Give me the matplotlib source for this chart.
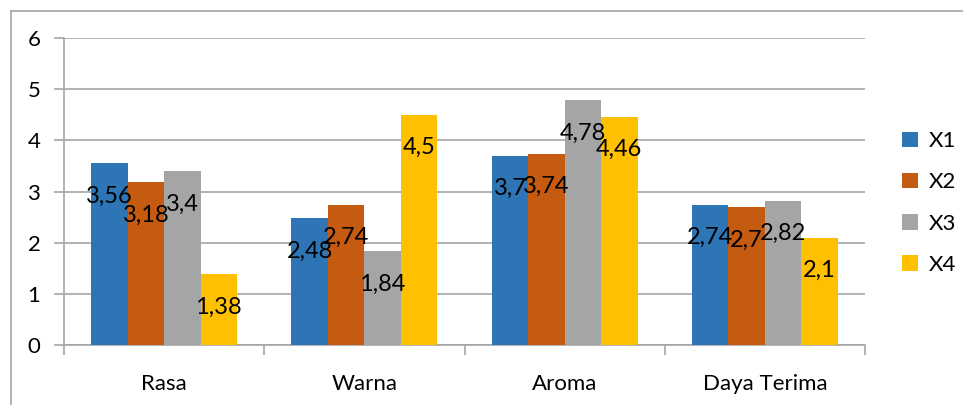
import matplotlib
matplotlib.use("Agg")
import matplotlib.pyplot as plt
import numpy as np
from matplotlib.lines import Line2D
from matplotlib.patches import Patch

categories = ["Rasa", "Warna", "Aroma", "Daya Terima"]
series_names = ["X1", "X2", "X3", "X4"]
x1 = [3.56, 2.48, 3.7, 2.74]
x2 = [3.18, 2.74, 3.74, 2.7]
x3 = [3.4, 1.84, 4.78, 2.82]
x4 = [1.38, 4.5, 4.46, 2.1]
label_x1 = ["3,56", "2,48", "3,7", "2,74"]
label_x2 = ["3,18", "2,74", "3,74", "2,7"]
label_x3 = ["3,4", "1,84", "4,78", "2,82"]
label_x4 = ["1,38", "4,5", "4,46", "2,1"]
yticks = [0, 1, 2, 3, 4, 5, 6]

colors = ["#2E75B6", "#C55A11", "#A5A5A5", "#FFC000"]
series = [x1, x2, x3, x4]
labels = [label_x1, label_x2, label_x3, label_x4]

plt.rcParams['font.family'] = ['Lato', 'DejaVu Sans']

fig = plt.figure(figsize=(9.63, 4.05), dpi=100)
ax = fig.add_axes([64/963, 1-345/405, (865-64)/963, (345-38)/405])

n = len(categories)
xs = np.arange(n)
bw = 0.182
for i, (vals, col, labs) in enumerate(zip(series, colors, labels)):
    pos = xs + (i - 1.5) * bw
    ax.bar(pos, vals, width=bw, color=col, zorder=3, linewidth=0)
    for p, v, t in zip(pos, vals, labs):
        ax.annotate(t, (p, v), xytext=(0, -33), textcoords='offset pixels',
                    ha='center', va='center', fontsize=17, color='black', zorder=5)

ax.set_xlim(-0.5, n - 0.5)
ax.set_ylim(0, 6)
ax.set_yticks(yticks)
ax.set_yticklabels([str(v) for v in yticks], fontsize=16)
ax.yaxis.grid(True, color='#A6A6A6', linewidth=1.2, zorder=0)
ax.set_axisbelow(True)

ax.set_xticks(xs)
ax.set_xticklabels(categories, fontsize=16)
ax.tick_params(axis='x', length=0, pad=21)
ax.set_xticks(np.arange(n + 1) - 0.5, minor=True)
ax.tick_params(axis='x', which='minor', length=7, color='#A6A6A6', width=1.2)
ax.tick_params(axis='y', length=7, color='#A6A6A6', width=1.2, pad=10)

for s in ['top', 'right']:
    ax.spines[s].set_visible(False)
ax.spines['left'].set_color('#A6A6A6')
ax.spines['bottom'].set_color('#A6A6A6')
ax.spines['left'].set_linewidth(1.2)
ax.spines['bottom'].set_linewidth(1.2)

handles = [Patch(facecolor=c, edgecolor='none') for c in colors]
fig.legend(handles, series_names, loc='center left',
           bbox_to_anchor=(902/963, 1-203/405), frameon=False, fontsize=16,
           borderpad=0, borderaxespad=0,
           handlelength=0.7, handleheight=0.7, handletextpad=0.5, labelspacing=0.95)

# outer chart border (cropped at right and bottom)
fig.add_artist(Line2D([10.5/963, 10.5/963], [0, 1-10.5/405], transform=fig.transFigure,
                      color='#A6A6A6', linewidth=1.2))
fig.add_artist(Line2D([10.5/963, 1], [1-10.5/405, 1-10.5/405], transform=fig.transFigure,
                      color='#A6A6A6', linewidth=1.2))

fig.savefig("out.png", dpi=100)
